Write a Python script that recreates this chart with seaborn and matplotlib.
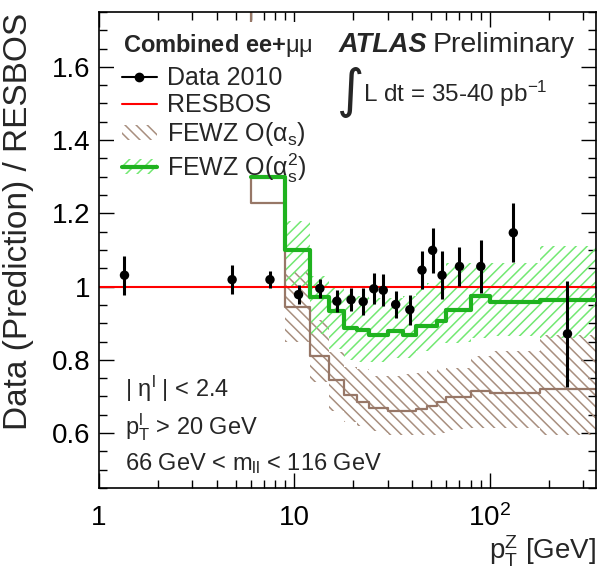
import matplotlib
matplotlib.use("Agg")
import matplotlib.pyplot as plt
import seaborn as sns
from matplotlib.patches import Patch, Rectangle
from matplotlib.lines import Line2D
from matplotlib.ticker import FixedLocator, MultipleLocator, LogLocator, FixedFormatter, NullFormatter

# ---- measured ratio Data / RESBOS (bin-averaged pT, ratio, stat+syst error)
data_pt = [1.35, 4.8, 7.5, 10.5, 13.5, 16.5, 19.5, 22.5, 25.5, 28.5,
           33, 39, 45, 51, 57, 70, 90, 132, 250]
data_ratio = [1.031, 1.019, 1.019, 0.978, 0.995, 0.960, 0.964, 0.959, 0.994, 0.990,
              0.951, 0.937, 1.045, 1.099, 1.031, 1.055, 1.055, 1.147, 0.871]
data_err = [0.053, 0.040, 0.024, 0.025, 0.026, 0.030, 0.032, 0.036, 0.042, 0.043,
            0.037, 0.041, 0.052, 0.062, 0.065, 0.054, 0.073, 0.081, 0.145]

# ---- RESBOS reference
resbos_pt = [1, 350]
resbos_ratio = [1.0, 1.0]

# ---- FEWZ O(alpha_s^2) / RESBOS
nnlo_edges = [6, 9, 12, 15, 18, 21, 24, 27, 30, 36, 42, 48, 54, 60, 70, 80, 100, 180, 350]
nnlo_ratio = [1.30, 1.10, 0.972, 0.933, 0.887, 0.881, 0.869, 0.869, 0.879, 0.867,
              0.892, 0.892, 0.905, 0.937, 0.937, 0.974, 0.959, 0.963]
nnlo_band_lo = [1.00, 0.87, 0.83, 0.80, 0.795, 0.795, 0.795, 0.805, 0.805,
                0.823, 0.823, 0.846, 0.846, 0.85, 0.86, 0.865, 0.86]
nnlo_band_hi = [1.18, 1.03, 1.00, 0.98, 0.975, 0.97, 0.97, 0.97, 0.975,
                1.00, 1.01, 1.03, 1.065, 1.065, 1.065, 1.065, 1.112]

# ---- FEWZ O(alpha_s) / RESBOS (first bin lies above the plotted range)
nlo_edges = [3, 6, 9, 12, 15, 18, 21, 24, 27, 30, 36, 42, 48, 54, 60, 70, 80, 100, 180, 350]
nlo_ratio = [1.90, 1.229, 0.943, 0.811, 0.744, 0.705, 0.684, 0.668, 0.668, 0.659,
             0.659, 0.666, 0.673, 0.684, 0.698, 0.698, 0.714, 0.709, 0.719]
nlo_band_lo = [0.85, 0.74, 0.66, 0.63, 0.62, 0.605, 0.60, 0.596, 0.596,
               0.596, 0.596, 0.60, 0.608, 0.61, 0.614, 0.614, 0.596]
nlo_band_hi = [1.04, 0.91, 0.82, 0.78, 0.775, 0.755, 0.755, 0.755, 0.76,
               0.765, 0.77, 0.775, 0.778, 0.778, 0.81, 0.823, 0.869]
band_edges = nnlo_edges[1:]

y_ticks = [0.6, 0.8, 1.0, 1.2, 1.4, 1.6]
y_tick_labels = ["0.6", "0.8", "1", "1.2", "1.4", "1.6"]
x_ticks = [1, 10, 100]
x_tick_labels = ["1", "10", r"$10^{2}$"]

# ---- colours
RED = "#ff0000"
GREEN = "#1fb21f"
GREEN_HATCH = "#72e872"
BROWN = "#977767"
BROWN_HATCH = "#a88f7f"

sns.set_theme(style="ticks")
plt.rcParams["font.family"] = ["Liberation Sans", "DejaVu Sans"]
plt.rcParams["mathtext.fontset"] = "custom"
plt.rcParams["mathtext.rm"] = "Liberation Sans"
plt.rcParams["mathtext.it"] = "Liberation Sans:italic"
plt.rcParams["mathtext.bf"] = "Liberation Sans:bold"
plt.rcParams["hatch.linewidth"] = 1.1

fig = plt.figure(figsize=(6.02, 5.72), dpi=100)
ax = fig.add_axes([0.1645, 0.1469, 0.8256, 0.8322])

# hatched uncertainty bands
ax.fill_between(band_edges, nlo_band_lo + nlo_band_lo[-1:], nlo_band_hi + nlo_band_hi[-1:],
                step="post", facecolor="none", edgecolor=BROWN_HATCH, hatch="\\\\\\",
                linewidth=0, zorder=1)
ax.fill_between(band_edges, nnlo_band_lo + nnlo_band_lo[-1:], nnlo_band_hi + nnlo_band_hi[-1:],
                step="post", facecolor="none", edgecolor=GREEN_HATCH, hatch="///",
                linewidth=0, zorder=1.1)

# prediction histograms
sns.lineplot(x=nlo_edges, y=nlo_ratio + nlo_ratio[-1:], drawstyle="steps-post",
             estimator=None, sort=False, color=BROWN, linewidth=1.6, ax=ax, zorder=2)
sns.lineplot(x=resbos_pt, y=resbos_ratio, estimator=None, sort=False,
             color=RED, linewidth=1.5, ax=ax, zorder=2.2)

# white legend panel
ax.add_patch(Rectangle((0.03, 0.652), 0.47, 0.326, transform=ax.transAxes,
                       facecolor="white", edgecolor="none", zorder=2.8))

sns.lineplot(x=nnlo_edges, y=nnlo_ratio + nnlo_ratio[-1:], drawstyle="steps-post",
             estimator=None, sort=False, color=GREEN, linewidth=3.0, ax=ax, zorder=3)

# data points
ax.errorbar(data_pt, data_ratio, yerr=data_err, fmt="none", ecolor="black",
            elinewidth=2.2, capsize=0, zorder=4)
sns.scatterplot(x=data_pt, y=data_ratio, color="black", s=46, edgecolor="none",
                ax=ax, zorder=5)

# axes
ax.set_xscale("log")
ax.set_xlim(1, 350)
ax.set_ylim(0.45, 1.75)
ax.xaxis.set_major_locator(FixedLocator(x_ticks))
ax.xaxis.set_major_formatter(FixedFormatter(x_tick_labels))
ax.xaxis.set_minor_locator(LogLocator(base=10, subs=range(2, 10)))
ax.xaxis.set_minor_formatter(NullFormatter())
ax.yaxis.set_major_locator(FixedLocator(y_ticks))
ax.yaxis.set_major_formatter(FixedFormatter(y_tick_labels))
ax.yaxis.set_minor_locator(MultipleLocator(0.05))
ax.tick_params(which="both", direction="in", top=True, right=True, colors="black",
               labelsize=20)
ax.tick_params(which="major", length=11, width=1.0)
ax.tick_params(which="minor", length=5.5, width=1.0)
ax.tick_params(axis="x", which="major", pad=12)
ax.tick_params(axis="y", which="major", pad=6)
for s in ax.spines.values():
    s.set_color("black")
    s.set_linewidth(1.2)
ax.set_xlabel("")
ax.set_ylabel("")

fig.text(0.990, 0.022, r"p$_{\mathrm{T}}^{\mathrm{Z}}$ [GeV]", ha="right", va="baseline",
         fontsize=20)
fig.text(0.031, 0.978, "Data (Prediction) / RESBOS", rotation=90, ha="center", va="top",
         fontsize=24)

# legend
handles = [
    Line2D([], [], color="black", marker="o", markersize=6, linewidth=1.5),
    Line2D([], [], color=RED, linewidth=1.5),
    Patch(facecolor="none", edgecolor=BROWN_HATCH, hatch="\\\\\\", linewidth=0),
    (Patch(facecolor="none", edgecolor=GREEN_HATCH, hatch="///", linewidth=0),
     Line2D([], [], color=GREEN, linewidth=3.0)),
]
labels = ["Data 2010", "RESBOS", r"FEWZ O($\mathrm{\alpha_{s}}$)",
          r"FEWZ O($\mathrm{\alpha_{s}^{2}}$)"]
leg = ax.legend(handles, labels, loc="upper left", bbox_to_anchor=(0.046, 0.886),
                frameon=False, fontsize=18, handlelength=1.4, handleheight=0.55,
                handletextpad=0.4, labelspacing=0.12, borderaxespad=0.0, borderpad=0.0)
leg.set_zorder(6)

ax.text(0.048, 0.916, r"Combined ee+$\mathrm{\mu\mu}$", transform=ax.transAxes, fontsize=17,
        fontweight="bold", ha="left", va="baseline", zorder=6)
ax.text(0.481, 0.916, "ATLAS", transform=ax.transAxes, fontsize=19.5, fontweight="bold",
        fontstyle="italic", ha="left", va="baseline", zorder=6)
ax.text(0.672, 0.916, "Preliminary", transform=ax.transAxes, fontsize=20.5,
        ha="left", va="baseline", zorder=6)
ax.text(0.478, 0.800, "\u222b", transform=ax.transAxes, fontsize=38,
        family="DejaVu Sans", ha="left", va="baseline", zorder=6)
ax.text(0.531, 0.812, r"L dt = 35-40 pb$^{-1}$", transform=ax.transAxes, fontsize=17.5,
        ha="left", va="baseline", zorder=6)

ax.text(0.052, 0.191, r"| $\mathrm{\eta^{l}}$ | < 2.4", transform=ax.transAxes,
        fontsize=17, ha="left", va="baseline", zorder=6)
ax.text(0.052, 0.113, r"p$_{\mathrm{T}}^{\mathrm{l}}$ > 20 GeV", transform=ax.transAxes,
        fontsize=17, ha="left", va="baseline", zorder=6)
ax.text(0.052, 0.038, r"66 GeV < m$_{\mathrm{ll}}$ < 116 GeV", transform=ax.transAxes,
        fontsize=17, ha="left", va="baseline", zorder=6)

fig.savefig("out.png", dpi=100)
